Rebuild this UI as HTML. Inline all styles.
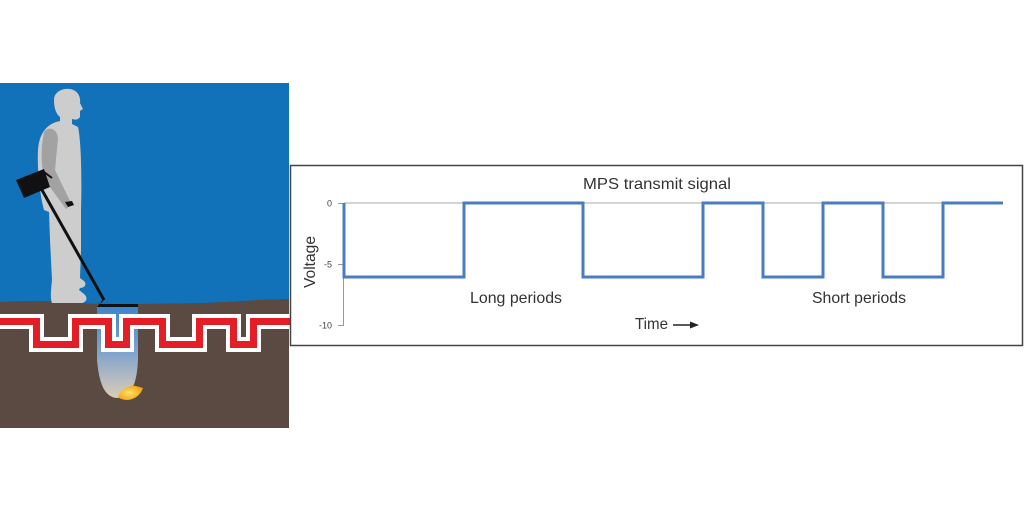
<!DOCTYPE html>
<html><head><meta charset="utf-8"><style>
html,body{margin:0;padding:0;background:#fff;}
svg{display:block;}
text{font-family:"Liberation Sans",sans-serif;}
</style></head><body>
<svg width="1024" height="512" viewBox="0 0 1024 512" xmlns="http://www.w3.org/2000/svg">
<defs>
<linearGradient id="beam" x1="0" y1="0" x2="0" y2="1">
<stop offset="0" stop-color="#3a86cb"/>
<stop offset="0.5" stop-color="#7fa3cd"/>
<stop offset="1" stop-color="#dacdb7"/>
</linearGradient>
<radialGradient id="gold" cx="0.45" cy="0.5" r="0.6">
<stop offset="0" stop-color="#ffe066"/>
<stop offset="1" stop-color="#f0a010"/>
</radialGradient>
</defs>
<!-- left illustration -->
<rect x="0" y="83" width="289" height="345" fill="#1272b9"/>
<path d="M0,302 C30,300 60,301 97,304 L138,304 C170,303 200,304 240,301 C260,300 275,299 289,299 L289,428 L0,428 Z" fill="#5b4a41"/>
<!-- beam -->
<path d="M97,306 L138,306 L138,360 C137,382 132,397 118,398 C104,398 99,382 97,360 Z" fill="url(#beam)"/>
<!-- band -->
<path d="M-5,321.5 H36.5 V344.5 H75.5 V321.5 H108.5 V344.5 H126.5 V321.5 H162.5 V344.5 H199.5 V321.5 H233.5 V344.5 H253.5 V321.5 H295" fill="none" stroke="#ffffff" stroke-width="15" stroke-linejoin="miter"/>
<path d="M-5,321.5 H36.5 V344.5 H75.5 V321.5 H108.5 V344.5 H126.5 V321.5 H162.5 V344.5 H199.5 V321.5 H233.5 V344.5 H253.5 V321.5 H295" fill="none" stroke="#e41e26" stroke-width="7" stroke-linejoin="miter"/>
<!-- nugget -->
<path d="M118,397 C120,390 128,385 136,386 L143,388 C141,394 136,399 128,400 C124,400 120,399 118,397 Z" fill="url(#gold)"/>
<!-- person -->
<path d="M54,100 C54,92 62,88 70,89 C77,90 81,96 80,103 L83,109 L80,111 L80,117 C78,120 75,120 72,119 L72,124 L78,127 C81,140 82,175 81,210 L81,250 L80,278 L84,281 C87,284 85,288 80,288 L79,290 L84,294 C88,297 87,302 82,303 L52,303 C50,298 51,290 52,280 L50,240 L49,212 L44,210 C40,195 37,170 38,150 C39,135 45,126 56,122 L60,121 L60,117 C56,114 54,108 54,100 Z" fill="#cdcdcd"/>
<path d="M44,132 C48,126 57,128 58,138 L55,170 L69,199 L72,204 L66,209 L47,183 C42,175 41,160 42,145 Z" fill="#a2a2a2"/>
<path d="M65,202 L72,201 L74,205 L68,207 Z" fill="#111"/>
<!-- detector -->
<path d="M42,190 L104,300" stroke="#111" stroke-width="3" fill="none"/>
<path d="M104,298 C104,302 100,304 97,304 L138,304 L138,307 L97,307 Z" fill="#111"/>
<path d="M16,180 L44,169 L50,187 L24,198 Z" fill="#111"/>
<path d="M44,172 L52,178" stroke="#111" stroke-width="2"/>
<!-- chart box -->
<rect x="290.5" y="165.5" width="732" height="180" fill="#fff" stroke="#444" stroke-width="1.5"/>
<line x1="344" y1="203" x2="1003" y2="203" stroke="#aaa" stroke-width="1"/>
<line x1="343.5" y1="203" x2="343.5" y2="325" stroke="#999" stroke-width="1"/>
<line x1="338" y1="203.5" x2="344" y2="203.5" stroke="#999" stroke-width="1"/>
<line x1="338" y1="264.5" x2="344" y2="264.5" stroke="#999" stroke-width="1"/>
<line x1="338" y1="325.5" x2="344" y2="325.5" stroke="#999" stroke-width="1"/>
<text x="332" y="206.5" font-size="9" fill="#444" text-anchor="end">0</text>
<text x="332" y="267.5" font-size="9" fill="#444" text-anchor="end">-5</text>
<text x="332" y="328.5" font-size="9" fill="#444" text-anchor="end">-10</text>
<path d="M344,203 V277 H464 V203 H583 V277 H703 V203 H763 V277 H823 V203 H883 V277 H943 V203 H1003" fill="none" stroke="#4a7cc0" stroke-width="3"/>
<text x="583" y="189" font-size="16" fill="#333" textLength="148" lengthAdjust="spacingAndGlyphs">MPS transmit signal</text>
<text x="470" y="303" font-size="16" fill="#333" textLength="92" lengthAdjust="spacingAndGlyphs">Long periods</text>
<text x="812" y="303" font-size="16" fill="#333" textLength="94" lengthAdjust="spacingAndGlyphs">Short periods</text>
<text x="635" y="329" font-size="16" fill="#333" textLength="33" lengthAdjust="spacingAndGlyphs">Time</text>
<line x1="673" y1="325" x2="692" y2="325" stroke="#222" stroke-width="1.6"/>
<path d="M690,321.5 L699,325 L690,328.5 Z" fill="#222"/>
<text transform="translate(315,262) rotate(-90)" font-size="16" fill="#333" text-anchor="middle" textLength="52" lengthAdjust="spacingAndGlyphs">Voltage</text>
</svg>
</body></html>
